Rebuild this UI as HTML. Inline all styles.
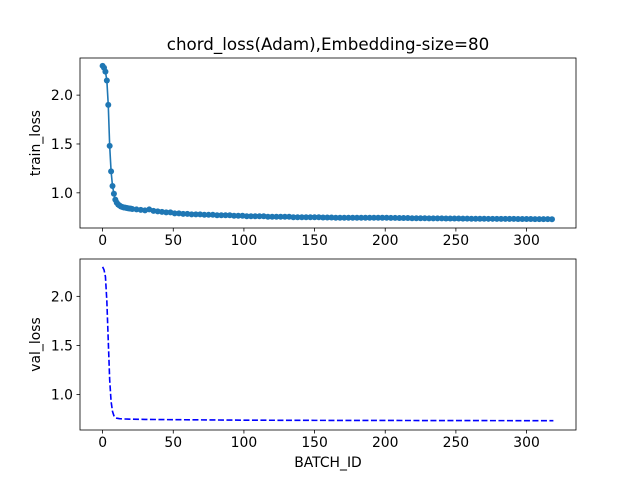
<!DOCTYPE html>
<html><head><meta charset="utf-8"><style>
body{margin:0;background:#fff}
svg{display:block;font-family:"DejaVu Sans","Liberation Sans",sans-serif}
</style></head><body>
<svg id="c" width="640" height="480" viewBox="0 0 640 480" xmlns="http://www.w3.org/2000/svg">
<rect width="640" height="480" fill="#fff"/>
</svg>
<script>
const trainX = [0,1,2,3,4,5,6,7,8,9,10,11,12,13,14,15,16,17,18,19,20,
21,24,27,30,33,36,39,42,45,48,
51,54,57,60,63,66,69,72,75,78,81,84,87,90,93,96,99,
102,105,108,111,114,117,120,123,126,129,132,135,138,141,144,147,150,
153,156,159,162,165,168,171,174,177,180,183,186,189,192,195,198,201,
204,207,210,213,216,219,222,225,228,231,234,237,240,243,246,249,252,
255,258,261,264,267,270,273,276,279,282,285,288,291,294,297,300,303,306,309,312,315,318];
const trainLoss = [2.30,2.28,2.24,2.15,1.90,1.48,1.22,1.07,0.99,0.93,0.90,0.88,0.87,0.86,0.855,0.85,0.848,0.845,0.842,0.84,0.838,
0.835,0.83,0.825,0.82,0.83,0.815,0.81,0.805,0.80,0.80,
0.79,0.79,0.785,0.785,0.78,0.78,0.78,0.775,0.775,0.775,0.77,0.77,0.77,0.77,0.765,0.765,0.765,
0.76,0.76,0.76,0.76,0.76,0.755,0.755,0.755,0.755,0.755,0.755,0.75,0.75,0.75,0.75,0.75,0.75,
0.75,0.748,0.748,0.748,0.745,0.745,0.745,0.745,0.745,0.745,0.745,0.745,0.745,0.745,0.745,0.745,0.745,
0.743,0.743,0.742,0.742,0.742,0.74,0.74,0.74,0.74,0.738,0.738,0.738,0.738,0.737,0.737,0.737,0.737,
0.736,0.736,0.735,0.735,0.735,0.735,0.734,0.734,0.733,0.733,0.733,0.733,0.733,0.732,0.732,0.732,0.732,0.731,0.731,0.731,0.731,0.73];
const valX = [0,1,2,3,4,5,6,7,8,9,10,12,15,20,30,50,100,150,200,250,300,319];
const valLoss = [2.30,2.27,2.20,1.95,1.55,1.15,0.93,0.83,0.785,0.765,0.76,0.755,0.752,0.75,0.748,0.745,0.74,0.738,0.737,0.736,0.735,0.735];
const xTicks = [0,50,100,150,200,250,300];
const yTicks = [1.0,1.5,2.0];

const NS="http://www.w3.org/2000/svg", svg=document.getElementById('c');
function mk(t,a,p){const e=document.createElementNS(NS,t);for(const k in a)e.setAttribute(k,a[k]);(p||svg).appendChild(e);return e;}
const L=80,R=576,XMIN=-16,XMAX=335;
const sx=v=>L+(v-XMIN)*(R-L)/(XMAX-XMIN);
function panel(top,bot,ymin,ymax,xs,ys,opts,name,ylabel){
  const sy=v=>bot-(v-ymin)*(bot-top)/(ymax-ymin);
  const g=mk('g',{});
  
  
  const d=xs.map((x,i)=>(i?'L':'M')+sx(x).toFixed(2)+','+sy(ys[i]).toFixed(2)).join('');
  const line=mk('path',{d:d,fill:'none',stroke:opts.color,'stroke-width':1.6,'stroke-dasharray':opts.dash||'none','stroke-linejoin':'round'},g);
  
  
  if(opts.markers){xs.forEach((x,i)=>{const c=mk('circle',{cx:sx(x),cy:sy(ys[i]),r:3,fill:opts.color},g);
    
    });}
  const fr=mk('rect',{x:L,y:top,width:R-L,height:bot-top,fill:'none',stroke:'#000','stroke-width':0.8});
  
  
  xTicks.forEach(t=>{mk('line',{x1:sx(t),x2:sx(t),y1:bot,y2:bot+3.5,stroke:'#000','stroke-width':0.8});
    const tx=mk('text',{x:sx(t),y:bot+17,'text-anchor':'middle','font-size':'13.9px',fill:'#000'});tx.textContent=t;
    
    });
  yTicks.forEach(t=>{mk('line',{x1:L-3.5,x2:L,y1:sy(t),y2:sy(t),stroke:'#000','stroke-width':0.8});
    const tx=mk('text',{x:L-7,y:sy(t)+5,'text-anchor':'end','font-size':'13.9px',fill:'#000'});tx.textContent=t.toFixed(1);
    
    });
  const yl=mk('text',{x:0,y:0,transform:`translate(40,${(top+bot)/2}) rotate(-90)`,'text-anchor':'middle','font-size':'13.9px',fill:'#000'});
  yl.textContent=ylabel;
  
  
}
panel(58,228,0.64,2.38,trainX,trainLoss,{color:'#1f77b4',markers:true},'train-loss-panel','train_loss');
panel(259,430,0.64,2.38,valX,valLoss,{color:'#0000ff',dash:'6,2.5'},'val-loss-panel','val_loss');
const ti=mk('text',{x:328,y:50,'text-anchor':'middle','font-size':'16.7px',fill:'#000'});
ti.textContent='chord_loss(Adam),Embedding-size=80';


const xl=mk('text',{x:328,y:467,'text-anchor':'middle','font-size':'13.9px',fill:'#000'});
xl.textContent='BATCH_ID';


</script>
</body></html>
